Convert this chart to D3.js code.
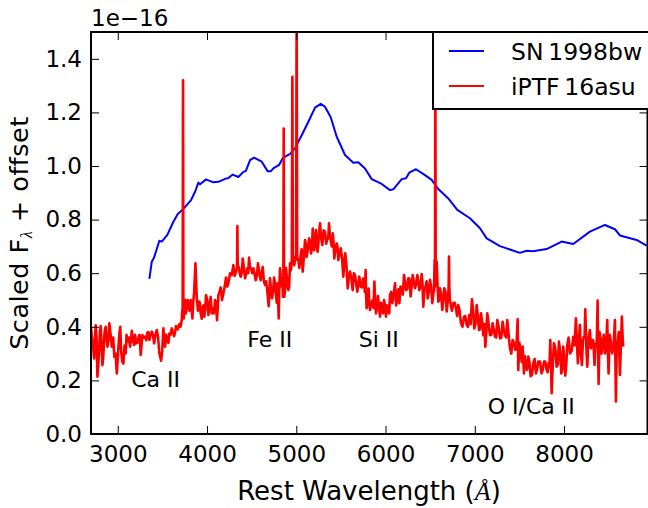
<!DOCTYPE html>
<html>
<head>
<meta charset="utf-8">
<script src="https://cdn.jsdelivr.net/npm/d3@7"></script>
<style>
  html, body { margin: 0; padding: 0; background: #fff; }
  svg { display: block; font-family: "DejaVu Sans", sans-serif; }
</style>
</head>
<body>
<svg id="chart" width="648" height="508"></svg>
<script>
'use strict';
const X_TICKS = [3000, 4000, 5000, 6000, 7000, 8000];
const Y_TICKS = [0, 0.2, 0.4, 0.6, 0.8, 1.0, 1.2, 1.4];
const LEGEND_LABELS = ['SN\u20091998bw', 'iPTF\u200916asu'];
const COLORS = ['#0000ff', '#ff0000'];

const blueWave = [3354, 3381, 3407, 3466, 3493, 3555, 3623, 3672, 3735, 3821, 3866, 3903, 3922, 3989, 4071, 4127, 4210, 4235, 4288, 4351, 4407, 4434, 4482, 4527, 4613, 4680, 4714, 4743, 4807, 4848, 4930, 4986, 5072, 5154, 5210, 5274, 5322, 5386, 5453, 5546, 5639, 5695, 5770, 5845, 5957, 6050, 6087, 6181, 6229, 6266, 6341, 6442, 6517, 6591, 6703, 6804, 6946, 7058, 7133, 7282, 7506, 7581, 7652, 7805, 7973, 8103, 8290, 8458, 8570, 8626, 8813, 8925];
const blueFlux = [0.579, 0.643, 0.659, 0.721, 0.718, 0.743, 0.792, 0.821, 0.840, 0.873, 0.904, 0.938, 0.932, 0.950, 0.939, 0.941, 0.953, 0.954, 0.968, 0.959, 0.978, 0.981, 1.022, 1.031, 1.016, 0.980, 0.980, 0.991, 1.004, 1.029, 1.045, 1.066, 1.122, 1.178, 1.218, 1.232, 1.221, 1.182, 1.109, 1.041, 1.012, 1.014, 0.991, 0.951, 0.933, 0.910, 0.913, 0.951, 0.954, 0.975, 0.988, 0.966, 0.948, 0.914, 0.879, 0.836, 0.805, 0.768, 0.730, 0.701, 0.676, 0.684, 0.682, 0.690, 0.718, 0.709, 0.755, 0.780, 0.764, 0.741, 0.724, 0.703];

// peaks and troughs of the noisy spectrum
const redWave = [2701, 2720, 2735, 2753, 2772, 2791, 2809, 2828, 2847, 2865, 2884, 2906, 2933, 2962, 2989, 3018, 3037, 3063, 3089, 3108, 3138, 3157, 3183, 3205, 3231, 3257, 3276, 3306, 3332, 3354, 3381, 3407, 3437, 3466, 3485, 3511, 3530, 3556, 3578, 3605, 3631, 3653, 3690, 3717, 3720, 3731, 3739, 3754, 3773, 3791, 3817, 3836, 3855, 3870, 3885, 3911, 3929, 3952, 3970, 3989, 4015, 4041, 4064, 4090, 4112, 4127, 4153, 4183, 4213, 4239, 4277, 4295, 4325, 4340, 4355, 4377, 4400, 4426, 4452, 4471, 4493, 4519, 4545, 4571, 4601, 4624, 4650, 4676, 4691, 4706, 4728, 4751, 4773, 4788, 4803, 4818, 4837, 4851, 4859, 4866, 4892, 4911, 4930, 4945, 4956, 4967, 4990, 5004, 5023, 5049, 5072, 5098, 5116, 5143, 5165, 5184, 5202, 5221, 5240, 5266, 5292, 5322, 5348, 5367, 5385, 5408, 5426, 5452, 5471, 5497, 5527, 5549, 5576, 5602, 5632, 5658, 5684, 5706, 5736, 5759, 5777, 5788, 5811, 5826, 5856, 5875, 5893, 5916, 5938, 5960, 5983, 6005, 6031, 6050, 6076, 6106, 6132, 6155, 6181, 6207, 6229, 6255, 6281, 6304, 6330, 6356, 6378, 6405, 6423, 6449, 6472, 6498, 6524, 6543, 6550, 6558, 6573, 6591, 6610, 6636, 6658, 6685, 6711, 6729, 6759, 6789, 6815, 6845, 6879, 6909, 6938, 6968, 6994, 7021, 7047, 7069, 7095, 7118, 7140, 7170, 7200, 7226, 7252, 7282, 7312, 7338, 7364, 7394, 7424, 7454, 7480, 7487, 7513, 7536, 7551, 7573, 7599, 7625, 7655, 7685, 7711, 7748, 7775, 7805, 7827, 7846, 7861, 7887, 7917, 7943, 7969, 7991, 8014, 8036, 8066, 8103, 8133, 8155, 8178, 8200, 8223, 8238, 8260, 8290, 8312, 8342, 8357, 8376, 8387, 8409, 8432, 8458, 8484, 8499, 8521, 8540, 8570, 8581, 8600, 8626, 8648, 8663];
const redFlux = [0.394, 0.338, 0.282, 0.406, 0.214, 0.313, 0.403, 0.257, 0.357, 0.400, 0.326, 0.413, 0.326, 0.288, 0.226, 0.375, 0.313, 0.263, 0.301, 0.344, 0.326, 0.385, 0.332, 0.338, 0.360, 0.295, 0.369, 0.363, 0.379, 0.351, 0.382, 0.338, 0.388, 0.301, 0.273, 0.394, 0.326, 0.351, 0.375, 0.394, 0.365, 0.403, 0.410, 0.425, 0.450, 1.320, 0.431, 0.500, 0.469, 0.494, 0.500, 0.431, 0.525, 0.637, 0.506, 0.494, 0.450, 0.475, 0.438, 0.518, 0.444, 0.512, 0.469, 0.500, 0.425, 0.518, 0.547, 0.525, 0.584, 0.562, 0.593, 0.630, 0.606, 0.776, 0.624, 0.587, 0.655, 0.581, 0.618, 0.658, 0.618, 0.618, 0.574, 0.637, 0.574, 0.624, 0.556, 0.531, 0.477, 0.581, 0.506, 0.584, 0.518, 0.562, 0.431, 0.618, 0.550, 0.512, 1.140, 0.512, 0.593, 0.537, 0.637, 0.624, 1.333, 0.649, 0.661, 1.620, 0.649, 0.668, 0.606, 0.724, 0.661, 0.730, 0.674, 0.767, 0.686, 0.761, 0.680, 0.786, 0.705, 0.755, 0.730, 0.786, 0.724, 0.749, 0.655, 0.711, 0.649, 0.693, 0.587, 0.674, 0.543, 0.606, 0.537, 0.593, 0.531, 0.587, 0.547, 0.568, 0.612, 0.469, 0.543, 0.463, 0.500, 0.569, 0.450, 0.515, 0.438, 0.475, 0.500, 0.438, 0.475, 0.519, 0.488, 0.562, 0.513, 0.488, 0.544, 0.593, 0.537, 0.581, 0.513, 0.593, 0.544, 0.593, 0.537, 0.597, 0.475, 0.550, 0.506, 0.575, 0.488, 0.537, 0.649, 1.450, 0.643, 0.494, 0.544, 0.463, 0.544, 0.457, 0.662, 0.488, 0.488, 0.469, 0.481, 0.413, 0.438, 0.407, 0.444, 0.503, 0.394, 0.481, 0.388, 0.450, 0.369, 0.326, 0.450, 0.369, 0.413, 0.363, 0.425, 0.357, 0.419, 0.369, 0.425, 0.320, 0.351, 0.314, 0.428, 0.239, 0.314, 0.326, 0.226, 0.251, 0.289, 0.216, 0.264, 0.226, 0.270, 0.226, 0.270, 0.239, 0.264, 0.351, 0.152, 0.338, 0.251, 0.345, 0.226, 0.326, 0.218, 0.332, 0.301, 0.363, 0.432, 0.264, 0.407, 0.258, 0.363, 0.465, 0.251, 0.388, 0.351, 0.258, 0.338, 0.498, 0.187, 0.357, 0.338, 0.301, 0.425, 0.226, 0.351, 0.301, 0.425, 0.121, 0.338, 0.220, 0.438, 0.326];
// second reading of the same spectrum, values inside the noise band
const redWaveFine = [2710, 2745, 2762, 2782, 2800, 2818, 2838, 2856, 2875, 2895, 2920, 2948, 2975, 3003, 3028, 3050, 3076, 3098, 3123, 3147, 3170, 3194, 3218, 3244, 3266, 3291, 3319, 3343, 3368, 3394, 3422, 3452, 3498, 3520, 3543, 3567, 3591, 3618, 3642, 3672, 3703, 3727, 3735, 3762, 3782, 3804, 3827, 3845, 3898, 3920, 3941, 3961, 3980, 4002, 4028, 4052, 4077, 4101, 4120, 4140, 4168, 4198, 4226, 4258, 4310, 4336, 4344, 4366, 4388, 4413, 4439, 4461, 4482, 4506, 4532, 4558, 4586, 4612, 4637, 4663, 4684, 4698, 4717, 4740, 4762, 4781, 4796, 4810, 4828, 4844, 4855, 4863, 4878, 4884, 4902, 4920, 4938, 4950, 4962, 4978, 4998, 5010, 5034, 5060, 5085, 5107, 5130, 5154, 5175, 5193, 5212, 5231, 5253, 5279, 5307, 5335, 5358, 5376, 5397, 5417, 5439, 5461, 5484, 5512, 5538, 5562, 5589, 5617, 5645, 5671, 5695, 5721, 5748, 5768, 5782, 5800, 5818, 5841, 5865, 5884, 5905, 5927, 5949, 5971, 5994, 6018, 6041, 6063, 6091, 6119, 6143, 6168, 6194, 6218, 6242, 6268, 6292, 6317, 6343, 6367, 6392, 6414, 6436, 6460, 6485, 6511, 6534, 6554, 6562, 6582, 6600, 6623, 6647, 6671, 6698, 6707, 6715, 6720, 6744, 6774, 6802, 6830, 6862, 6894, 6923, 6953, 6981, 7008, 7034, 7058, 7082, 7107, 7129, 7155, 7185, 7213, 7239, 7267, 7297, 7325, 7351, 7379, 7409, 7439, 7467, 7500, 7525, 7544, 7562, 7586, 7612, 7640, 7670, 7698, 7730, 7762, 7790, 7816, 7836, 7853, 7874, 7902, 7930, 7956, 7980, 8002, 8025, 8051, 8085, 8118, 8144, 8166, 8189, 8212, 8230, 8249, 8275, 8301, 8327, 8350, 8366, 8381, 8398, 8420, 8445, 8471, 8491, 8510, 8530, 8555, 8575, 8590, 8613, 8637, 8655];
const redFluxFine = [0.36, 0.36, 0.36, 0.26, 0.38, 0.33, 0.29, 0.39, 0.35, 0.35, 0.37, 0.36, 0.30, 0.30, 0.40, 0.27, 0.33, 0.37, 0.36, 0.35, 0.35, 0.37, 0.34, 0.37, 0.33, 0.36, 0.35, 0.38, 0.37, 0.37, 0.37, 0.36, 0.31, 0.36, 0.37, 0.34, 0.37, 0.38, 0.38, 0.39, 0.40, 0.47, 0.47, 0.45, 0.50, 0.46, 0.47, 0.49, 0.46, 0.49, 0.43, 0.48, 0.47, 0.50, 0.48, 0.45, 0.45, 0.49, 0.47, 0.53, 0.50, 0.55, 0.55, 0.60, 0.59, 0.62, 0.62, 0.60, 0.60, 0.62, 0.60, 0.60, 0.62, 0.60, 0.60, 0.59, 0.60, 0.60, 0.57, 0.57, 0.50, 0.52, 0.54, 0.53, 0.56, 0.49, 0.50, 0.55, 0.57, 0.58, 0.55, 0.55, 0.55, 0.62, 0.56, 0.55, 0.61, 0.65, 0.65, 0.63, 0.65, 0.66, 0.62, 0.69, 0.66, 0.71, 0.69, 0.72, 0.69, 0.72, 0.73, 0.70, 0.74, 0.73, 0.76, 0.71, 0.73, 0.74, 0.70, 0.72, 0.69, 0.70, 0.67, 0.66, 0.64, 0.63, 0.59, 0.58, 0.60, 0.56, 0.56, 0.55, 0.58, 0.53, 0.52, 0.50, 0.49, 0.49, 0.47, 0.50, 0.48, 0.47, 0.49, 0.45, 0.48, 0.48, 0.45, 0.53, 0.52, 0.48, 0.54, 0.55, 0.52, 0.57, 0.54, 0.58, 0.55, 0.57, 0.56, 0.57, 0.55, 0.56, 0.54, 0.57, 0.53, 0.55, 0.52, 0.55, 0.58, 0.56, 0.50, 0.52, 0.50, 0.53, 0.50, 0.55, 0.55, 0.50, 0.46, 0.49, 0.44, 0.46, 0.40, 0.44, 0.40, 0.41, 0.46, 0.41, 0.44, 0.39, 0.42, 0.41, 0.38, 0.41, 0.37, 0.39, 0.36, 0.40, 0.36, 0.39, 0.36, 0.37, 0.30, 0.34, 0.33, 0.34, 0.27, 0.27, 0.29, 0.24, 0.27, 0.22, 0.28, 0.24, 0.27, 0.24, 0.27, 0.23, 0.25, 0.27, 0.26, 0.32, 0.26, 0.31, 0.24, 0.28, 0.26, 0.36, 0.31, 0.33, 0.34, 0.35, 0.30, 0.35, 0.36, 0.33, 0.36, 0.32, 0.35, 0.32, 0.33, 0.32, 0.38, 0.30, 0.37, 0.32, 0.31, 0.37, 0.33, 0.33, 0.28, 0.32, 0.38, 0.33, 0.37];

const annoText = ['Ca II', 'Fe II', 'Si II', 'O I/Ca II'];
const annoWave = [3150, 4450, 5700, 7145];
const annoFlux = [0.175, 0.325, 0.325, 0.075];

const svg = d3.select('#chart');
const margin = { top: 32, right: 0.5, bottom: 74, left: 91 };
const width = 648 - margin.left - margin.right;
const height = 508 - margin.top - margin.bottom;

let x = d3.scaleLinear().domain([2700, 8935]).range([0, width]);
let y = d3.scaleLinear().domain([0, 1.5]).range([height, 0]);

let g = svg.append('g').attr('transform', `translate(${margin.left},${margin.top})`);

g.append('defs').append('clipPath').attr('id', 'plot-clip')
  .append('rect').attr('width', width).attr('height', height);

// spectra
let redPoints = d3.zip(redWave, redFlux)
  .concat(d3.zip(redWaveFine, redFluxFine))
  .sort((a, b) => a[0] - b[0]);
let line = d3.line().x((d) => x(d[0])).y((d) => y(d[1]));
let lines = g.append('g').attr('clip-path', 'url(#plot-clip)');
lines.append('path')
  .attr('d', line(d3.zip(blueWave, blueFlux)))
  .attr('fill', 'none').attr('stroke', COLORS[0]).attr('stroke-width', 2)
  .attr('stroke-linejoin', 'round');
lines.append('path')
  .attr('d', line(redPoints))
  .attr('fill', 'none').attr('stroke', COLORS[1]).attr('stroke-width', 2.6)
  .attr('stroke-linejoin', 'round');

// line ids
g.selectAll('.anno').data(annoText).enter().append('text')
  .attr('class', 'anno')
  .attr('x', (d, i) => x(annoWave[i]))
  .attr('y', (d, i) => y(annoFlux[i]))
  .attr('font-size', 22).attr('fill', '#000')
  .text((d) => d);

// axes, ticks point inwards on all four sides
function styleAxis(sel) {
  sel.select('.domain').remove();
  sel.selectAll('.tick line').attr('stroke', '#000').attr('stroke-width', 1);
}
function addAxis(axis, tx, ty, showText) {
  let a = g.append('g').attr('transform', `translate(${tx},${ty})`).call(axis).call(styleAxis);
  a.attr('font-family', null).attr('font-size', null);
  if (!showText) a.selectAll('.tick text').remove();
  return a;
}
let xBottom = addAxis(d3.axisBottom(x).tickValues(X_TICKS).tickFormat(d3.format('d')).tickSize(-8), 0, height, true);
xBottom.selectAll('.tick text').attr('font-size', 23).attr('fill', '#000').attr('y', 12).attr('dy', '0.71em');
addAxis(d3.axisTop(x).tickValues(X_TICKS).tickSize(-8), 0, 0, false);
let yLeft = addAxis(d3.axisLeft(y).tickValues(Y_TICKS).tickFormat(d3.format('.1f')).tickSize(-8), 0, 0, true);
yLeft.selectAll('.tick text').attr('font-size', 23).attr('fill', '#000').attr('x', -9);
addAxis(d3.axisRight(y).tickValues(Y_TICKS).tickSize(-8), width, 0, false);

g.append('rect').attr('width', width).attr('height', height)
  .attr('fill', 'none').attr('stroke', '#000').attr('stroke-width', 2);

// offset text and axis labels
svg.append('text').attr('x', 91).attr('y', 26).attr('font-size', 23).text('1e\u221216');
let xLabel = svg.append('text').attr('x', 369).attr('y', 500).attr('text-anchor', 'middle').attr('font-size', 26);
xLabel.append('tspan').text('Rest Wavelength (');
xLabel.append('tspan').attr('font-family', 'Liberation Serif').attr('font-style', 'italic').text('\u00c5');
xLabel.append('tspan').text(')');
let yLabel = svg.append('text')
  .attr('transform', 'translate(28,233) rotate(-90)')
  .attr('text-anchor', 'middle').attr('font-size', 25.5).attr('letter-spacing', 0.5);
yLabel.append('tspan').text('Scaled F');
yLabel.append('tspan').attr('font-size', 16).attr('dy', 4).attr('font-family', 'Liberation Serif').attr('font-style', 'italic').text('\u03bb');
yLabel.append('tspan').attr('dy', -4).text(' + offset');

// legend
let legend = svg.append('g');
legend.append('rect').attr('x', 433).attr('y', 32).attr('width', 216).attr('height', 77)
  .attr('fill', '#fff').attr('stroke', '#000').attr('stroke-width', 2);
LEGEND_LABELS.forEach((label, i) => {
  let ly = 51 + i * 35;
  legend.append('line').attr('x1', 449).attr('x2', 484).attr('y1', ly).attr('y2', ly)
    .attr('stroke', COLORS[i]).attr('stroke-width', 2);
  legend.append('text').attr('x', 511).attr('y', ly + 9).attr('font-size', 23.5).text(label);
});
</script>
</body>
</html>
